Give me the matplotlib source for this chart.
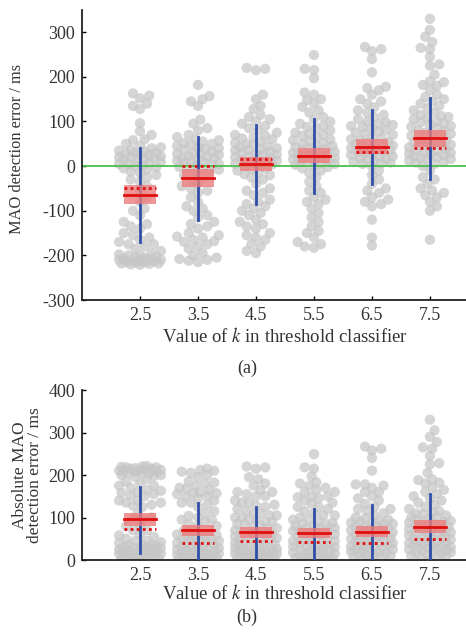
import numpy as np
import matplotlib
matplotlib.use("Agg")
import matplotlib.pyplot as plt

plt.rcParams['font.family'] = ['Liberation Serif', 'DejaVu Serif']
plt.rcParams['mathtext.fontset'] = 'stix'
plt.rcParams['axes.unicode_minus'] = False

k_values = [2.5, 3.5, 4.5, 5.5, 6.5, 7.5]

# MAO detection error (ms) for each k
err_25 = [163, 158, 152, 140, 135, 128, 96, 78, 70, 60, 58, 50, 45, 42, 40, 36, 35, 33, 30, 30, 28,
          25, 25, 22, 20, 20, 18, 15, 15, 12, 10, 8, 5, 5, 2, 0, -3, -5, -8, -12, -15, -20, -25,
          -30, -35, -45, -55, -70, -80, -95, -100, -110, -125, -130, -135, -140, -150, -155, -160,
          -165, -170, -175, -175, -180, -185, -190, -195, -198, -200, -200, -203, -205, -205,
          -207, -208, -210, -210, -212, -212, -213, -215, -215, -216, -218, -218, -219, -220, -221]
err_35 = [182, 157, 150, 145, 135, 104, 95, 85, 80, 70, 65, 60, 58, 55, 52, 50, 48, 45, 42, 40, 38,
          35, 32, 30, 28, 28, 25, 22, 20, 18, 18, 15, 12, 10, 8, 8, 5, 3, 0, -2, -3, -5, -8, -12,
          -15, -20, -25, -30, -40, -45, -50, -55, -60, -70, -80, -90, -95, -100, -110, -115, -125,
          -130, -135, -140, -150, -155, -158, -160, -165, -168, -170, -175, -180, -185, -195,
          -200, -205, -208, -210, -212, -215]
err_45 = [220, 218, 215, 160, 150, 135, 128, 115, 110, 105, 100, 95, 90, 85, 80, 75, 70, 68, 65,
          62, 60, 55, 52, 50, 48, 45, 42, 40, 38, 36, 35, 32, 30, 28, 26, 25, 22, 20, 18, 15, 14,
          12, 10, 8, 5, 4, 2, 0, -5, -8, -10, -15, -18, -20, -25, -30, -40, -50, -55, -60, -65,
          -75, -80, -85, -90, -95, -100, -105, -110, -120, -125, -130, -135, -140, -150, -155,
          -160, -165, -175, -180, -190, -195]
err_55 = [249, 218, 215, 197, 165, 160, 150, 148, 140, 133, 125, 120, 110, 105, 100, 95, 90, 88,
          85, 80, 75, 72, 70, 68, 65, 60, 58, 55, 52, 50, 46, 45, 42, 40, 38, 35, 34, 32, 30, 28,
          25, 24, 22, 20, 18, 15, 14, 12, 10, 8, 6, 5, 3, 0, -2, -5, -10, -15, -25, -35, -45, -55,
          -60, -70, -75, -80, -85, -95, -105, -115, -125, -135, -145, -150, -160, -170, -175,
          -180, -183]
err_65 = [267, 262, 258, 240, 210, 178, 175, 170, 160, 150, 145, 140, 132, 125, 120, 115, 110, 105,
          100, 98, 95, 92, 90, 88, 85, 80, 78, 75, 72, 70, 65, 62, 60, 58, 55, 52, 50, 48, 46,
          45, 42, 40, 38, 36, 35, 32, 30, 28, 26, 25, 22, 20, 18, 16, 15, 12, 10, 8, 6, 5, 0,
          -10, -20, -30, -40, -50, -55, -60, -70, -75, -80, -85, -90, -120, -160, -178]
err_75 = [330, 305, 290, 278, 265, 262, 245, 228, 225, 205, 190, 188, 182, 180, 170, 160, 155, 150,
          145, 140, 135, 130, 125, 120, 115, 112, 110, 108, 105, 100, 98, 95, 92, 90, 88, 85, 80,
          78, 75, 72, 70, 68, 65, 60, 58, 55, 52, 50, 48, 45, 44, 42, 40, 38, 36, 35, 32, 30, 28,
          26, 25, 22, 20, 18, 16, 15, 12, 10, 8, 5, 0, -10, -25, -30, -40, -50, -55, -60, -65,
          -70, -80, -90, -100, -165]
errors = [err_25, err_35, err_45, err_55, err_65, err_75]

# summary marks: mean, box (low/high), median, SD line (low/high)
mean_a = [-64, -27, 4, 22, 43, 63]
box_lo_a = [-85, -46, -12, 7, 27, 43]
box_hi_a = [-43, -6, 21, 40, 60, 81]
median_a = [-48, 0, 15, 22, 32, 41]
sd_lo_a = [-171, -120, -84, -60, -39, -28]
sd_hi_a = [41, 66, 92, 105, 125, 152]

mean_b = [96, 70, 65, 63, 67, 78]
box_lo_b = [80, 57, 52, 52, 55, 64]
box_hi_b = [111, 82, 78, 75, 80, 94]
median_b = [74, 41, 44, 43, 41, 49]
sd_lo_b = [16, 0, 0, 5, 0, 0]
sd_hi_b = [172, 135, 124, 121, 129, 155]


def swarm(vals, ypx, xpx=58.0, mind=7.5, maxw=0.38, step=0.04):
    # simple beeswarm: each point takes the closest free sideways slot
    vals = np.asarray(vals, float)
    offs = np.zeros(len(vals))
    slots = [0.0]
    for j in range(1, int(maxw / step) + 1):
        slots += [j * step, -j * step]
    px, py = [], []
    for n, i in enumerate(np.argsort(vals)):
        y = vals[i] * ypx
        cand = slots if n % 2 == 0 else [-s for s in slots]
        best, bestd = 0.0, -1.0
        for c in cand:
            if px:
                d = np.min(np.hypot((c - np.array(px)) * xpx, y - np.array(py)))
            else:
                d = np.inf
            if d >= mind:
                best = c
                break
            if d > bestd:
                best, bestd = c, d
        offs[i] = best
        px.append(best)
        py.append(y)
    return offs


def draw_panel(ax, data, mean, blo, bhi, med, slo, shi, ypx):
    for i, k in enumerate(k_values):
        v = np.asarray(data[i], float)
        ax.scatter(k + swarm(v, ypx), v, s=55, color='#c6c6c6', alpha=0.72,
                   edgecolors='none', zorder=2)
        ax.plot([k, k], [slo[i], shi[i]], color='#2f4fa8', lw=2, zorder=3)
        ax.bar(k, bhi[i] - blo[i], bottom=blo[i], width=0.56, color='#ec7c7c',
               alpha=0.8, zorder=4, linewidth=0)
        ax.plot([k - 0.28, k + 0.28], [med[i], med[i]], color='#e01010', lw=2,
                ls=(0, (1, 1.2)), zorder=5)
        ax.plot([k - 0.28, k + 0.28], [mean[i], mean[i]], color='#e01010', lw=2, zorder=6)


def style(ax):
    for s in ['top', 'right']:
        ax.spines[s].set_visible(False)
    for s in ['left', 'bottom']:
        ax.spines[s].set_linewidth(1.3)
        ax.spines[s].set_color('#222222')
    ax.tick_params(direction='in', length=3, width=1, labelsize=13,
                   labelcolor='#333333', pad=5)
    ax.set_xticks(k_values)
    ax.set_xticklabels([str(k) for k in k_values])
    ax.set_xlim(1.5, 8.5)


fig = plt.figure(figsize=(4.66, 6.32), dpi=100)
W = 0.871

ax1 = fig.add_axes([0.176, 0.5253, W, 0.459])
draw_panel(ax1, errors, mean_a, box_lo_a, box_hi_a, median_a, sd_lo_a, sd_hi_a, 0.446)
ax1.axhline(0, color='#4cbf4c', lw=1.3, zorder=2.5)
style(ax1)
ax1.set_ylim(-300, 350)
ax1.set_yticks(np.arange(-300, 301, 100))
ax1.set_ylabel('MAO detection error / ms', fontsize=11.8, color='#333333')
ax1.yaxis.set_label_coords(-0.14, 0.52)
ax1.set_xlabel('Value of $k$ in threshold classifier', fontsize=13.5, color='#333333', labelpad=2)

abs_errors = [np.abs(e) for e in errors]
ax2 = fig.add_axes([0.176, 0.1139, W, 0.269])
draw_panel(ax2, abs_errors, mean_b, box_lo_b, box_hi_b, median_b, sd_lo_b, sd_hi_b, 0.425)
style(ax2)
ax2.set_ylim(0, 400)
ax2.set_yticks(np.arange(0, 401, 100))
ax2.set_ylabel('Absolute MAO\ndetection error / ms', fontsize=12.5, color='#333333',
               linespacing=0.95)
ax2.yaxis.set_label_coords(-0.095, 0.5)
ax2.set_xlabel('Value of $k$ in threshold classifier', fontsize=13.5, color='#333333', labelpad=0)

fig.text(0.53, 1 - 368 / 632, '(a)', ha='center', va='center', fontsize=13, color='#333333')
fig.text(0.53, 1 - 617 / 632, '(b)', ha='center', va='center', fontsize=13, color='#333333')

fig.savefig('out.png', dpi=100)
